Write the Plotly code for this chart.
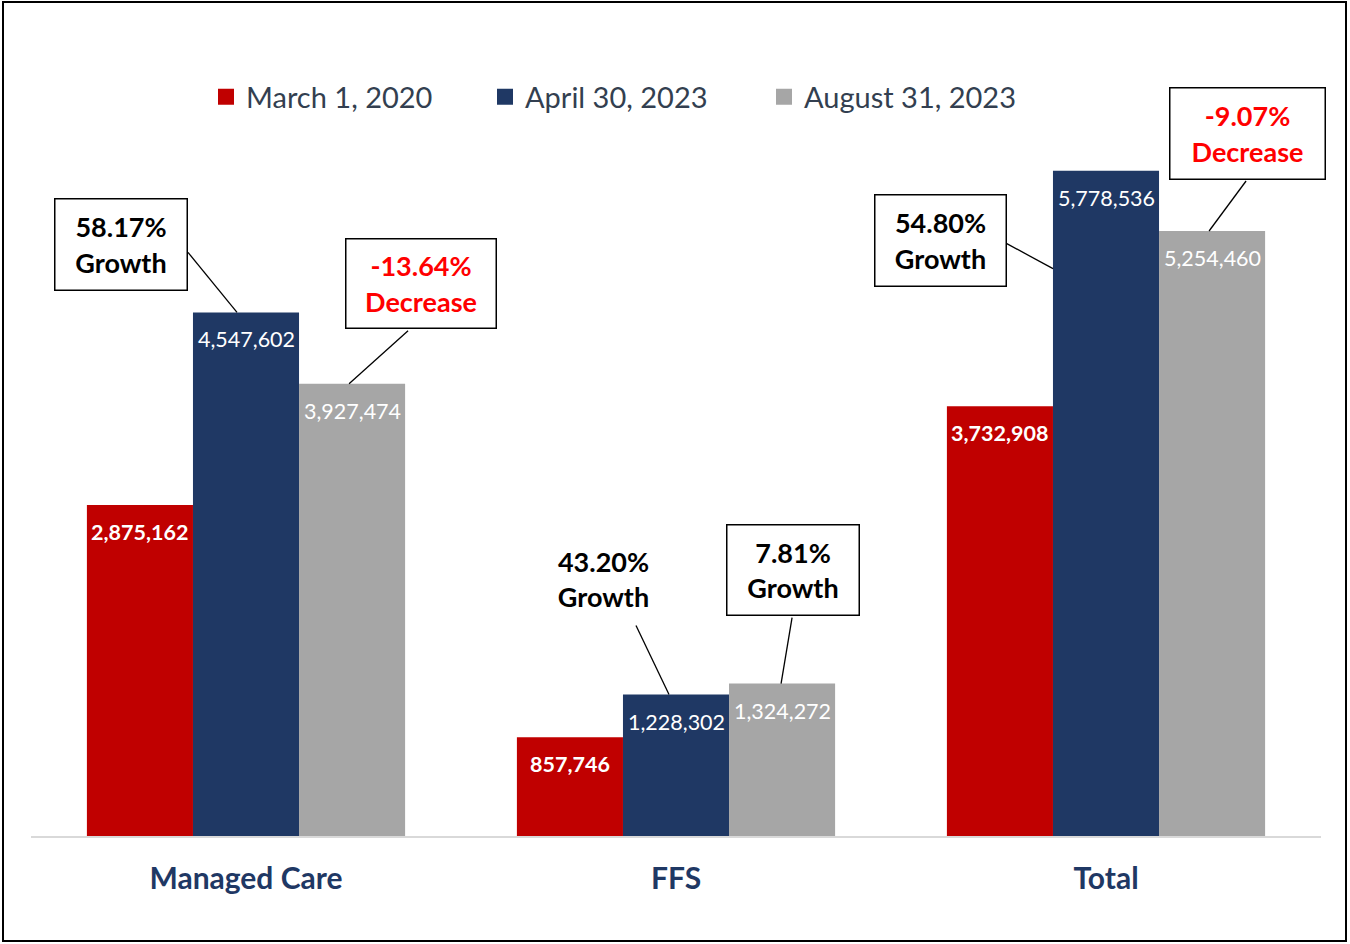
import plotly.graph_objects as go

categories = ["Managed Care", "FFS", "Total"]
series_names = ["March 1, 2020", "April 30, 2023", "August 31, 2023"]
march_2020 = [2875162, 857746, 3732908]
april_2023 = [4547602, 1228302, 5778536]
august_2023 = [3927474, 1324272, 5254460]
change_labels = ["Growth", "Decrease"]

series_values = [march_2020, april_2023, august_2023]
series_colors = ["#C00000", "#1F3864", "#A6A6A6"]

FONT = "Lato"
BARGAP = 0.26
BAR_W = (1 - BARGAP) / 3

fig = go.Figure()
for name, vals, color in zip(series_names, series_values, series_colors):
    fig.add_trace(
        go.Bar(
            x=categories,
            y=vals,
            name=name,
            marker_color=color,
            marker_line_width=0,
            showlegend=False,
        )
    )
    # legend-only square markers, bigger than the bar legend icon
    fig.add_trace(
        go.Scatter(
            x=[None],
            y=[None],
            mode="markers",
            name=name,
            marker=dict(symbol="square", size=19, color=color),
        )
    )

annotations = []

# value labels just below each bar top
for j, vals in enumerate(series_values):
    for i, v in enumerate(vals):
        annotations.append(
            dict(
                x=i + (j - 1) * BAR_W,
                y=v,
                xref="x",
                yref="y",
                text=f"{v:,}",
                showarrow=False,
                yshift=-27,
                font=dict(
                    family=FONT,
                    size=21.5,
                    color="white",
                    weight="bold" if j == 0 else "normal",
                ),
            )
        )

# callouts: (group, series, point dx, point dy, end dx, end dy, box dx, box dy, box w, box h, boxed)
callouts = [
    (0, 1, -9, 0, -58, 60, -125.5, 68, 133, 92, True),
    (0, 2, -3, 0, 56, 53, 68.5, 100, 151, 90, True),
    (1, 1, -7, 0, -40, 69, -73, 116, 133, 92, False),
    (1, 2, -1, 0, 10, 66, 10.5, 113.5, 133, 91, True),
    (2, 1, -53, -98, -101, -72, -166, -70, 132, 92, True),
    (2, 2, -3, 0, 34, 50, 35, 97, 156, 92, True),
]

shapes = []
for i, j, pdx, pdy, edx, edy, bdx, bdy, bw, bh, boxed in callouts:
    prev = series_values[j - 1][i]
    cur = series_values[j][i]
    pct = cur / prev - 1
    label = change_labels[0] if pct >= 0 else change_labels[1]
    color = "black" if pct >= 0 else "#FF0000"
    xpos = i + (j - 1) * BAR_W
    shapes.append(
        dict(
            type="line",
            xref="x",
            yref="y",
            xsizemode="pixel",
            ysizemode="pixel",
            xanchor=xpos,
            yanchor=cur,
            x0=pdx,
            y0=pdy,
            x1=edx,
            y1=edy,
            line=dict(color="black", width=1.3),
        )
    )
    ann = dict(
        x=xpos,
        y=cur,
        xref="x",
        yref="y",
        xshift=bdx,
        yshift=bdy,
        text=f"{pct:.2%}<br>{label}",
        showarrow=False,
        font=dict(family=FONT, size=27, color=color, weight="bold"),
        align="center",
        width=bw - 2,
        height=bh - 2,
        valign="middle",
    )
    if boxed:
        ann.update(bgcolor="white", bordercolor="black", borderwidth=1.5, borderpad=0)
    annotations.append(ann)

# outer frame
shapes.append(
    dict(
        type="rect",
        xref="paper",
        yref="paper",
        x0=(3 - 31) / 1290,
        x1=(1346 - 31) / 1290,
        y0=(836 - 941) / 806,
        y1=(836 - 2) / 806,
        line=dict(color="black", width=2),
        layer="above",
    )
)

fig.update_layout(
    width=1350,
    height=944,
    margin=dict(l=31, r=29, t=30, b=108),
    paper_bgcolor="white",
    plot_bgcolor="white",
    barmode="group",
    bargap=BARGAP,
    bargroupgap=0,
    font=dict(family=FONT),
    legend=dict(
        orientation="h",
        x=(206 - 31) / 1290,
        xanchor="left",
        y=(836 - 97) / 806,
        yanchor="middle",
        font=dict(family=FONT, size=29, color="#333F50"),
        entrywidth=234,
        bgcolor="rgba(0,0,0,0)",
    ),
    annotations=annotations,
    shapes=shapes,
)
fig.update_xaxes(
    type="category",
    range=[-0.5, 2.5],
    showline=True,
    linecolor="#D9D9D9",
    linewidth=2,
    showgrid=False,
    ticks="",
    ticklabelstandoff=15,
    tickfont=dict(family=FONT, size=30, color="#1F3864", weight="bold"),
)
fig.update_yaxes(range=[0, 7e6], visible=False, showgrid=False, zeroline=False)

fig.write_html(
    "out.html",
    config={"displayModeBar": False},
    post_script="document.body.style.margin = '0';",
)
